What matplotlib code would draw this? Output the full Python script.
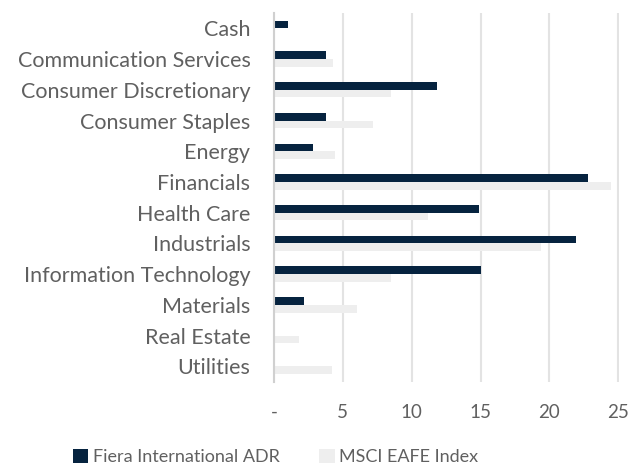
import matplotlib
matplotlib.use("Agg")
import matplotlib.pyplot as plt
import numpy as np

# sector weights (%)
sectors = ["Cash", "Communication Services", "Consumer Discretionary", "Consumer Staples",
           "Energy", "Financials", "Health Care", "Industrials", "Information Technology",
           "Materials", "Real Estate", "Utilities"]
fiera = [1.0, 3.8, 11.8, 3.8, 2.8, 22.8, 14.9, 21.9, 15.0, 2.2, 0.0, 0.0]
eafe = [0.0, 4.3, 8.5, 7.2, 4.4, 24.5, 11.2, 19.4, 8.5, 6.0, 1.8, 4.2]
xticks = [0, 5, 10, 15, 20, 25]
xticklabels = ["-", "5", "10", "15", "20", "25"]

navy = "#06233f"
light = "#eeeeee"
grey_text = "#606060"
grid_col = "#e3e3e3"

plt.rcParams['font.family'] = ['Lato', 'DejaVu Sans']

fig = plt.figure(figsize=(6.32, 4.65), dpi=100)
ax = fig.add_axes([274 / 632, 1 - 381.7 / 465, (619 - 274) / 632, (381.7 - 13) / 465])

y = np.arange(len(sectors))
h = 0.25
ax.barh(y - h / 2, fiera, height=h, color=navy, label="Fiera International ADR", zorder=3)
ax.barh(y + h / 2, eafe, height=h, color=light, label="MSCI EAFE Index", zorder=2)

ax.set_ylim(len(sectors) - 0.5, -0.5)
ax.set_xlim(0, 25.05)
ax.set_yticks(y)
ax.set_yticklabels(sectors, fontsize=15.5, color=grey_text)
ax.set_xticks(xticks)
ax.set_xticklabels(xticklabels, fontsize=13.5, color=grey_text)
ax.tick_params(axis='y', length=0, pad=17)
ax.tick_params(axis='x', length=0, pad=16)

ax.grid(axis='x', color=grid_col, linewidth=1.5, zorder=0)
for s in ["top", "right", "bottom"]:
    ax.spines[s].set_visible(False)
ax.spines["left"].set_color("#d0d0d0")
ax.spines["left"].set_linewidth(1.5)
ax.spines["left"].set_zorder(4)

fig.legend(loc="lower center", ncol=2, frameon=False, fontsize=13,
           bbox_to_anchor=(0.436, -0.035), handlelength=0.85, handleheight=0.85,
           handletextpad=0.25, columnspacing=2.2, labelcolor=grey_text)

fig.savefig("out.png", dpi=100)
